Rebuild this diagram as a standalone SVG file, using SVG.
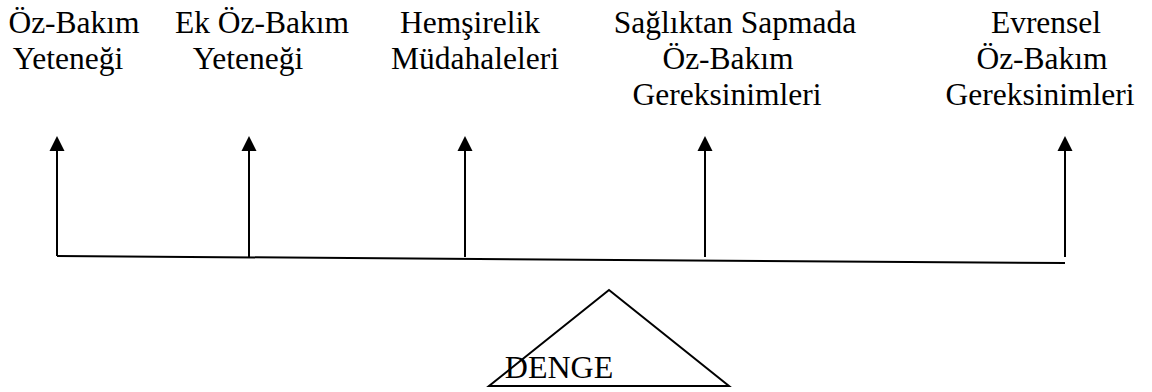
<svg xmlns="http://www.w3.org/2000/svg" width="1152" height="392" viewBox="0 0 1152 392">
  <style>
    text { font-family: "Liberation Serif", "Times New Roman", serif; font-size: 31.5px; fill: #000; text-anchor: middle; }
    .conn { stroke: #000; stroke-width: 2; fill: none; }
    .head { fill: #000; stroke: none; }
  </style>
  <defs>
    <!-- upward arrowhead, tip at origin -->
    <path id="up-head" class="head" d="M0 0 L7.5 15 L-7.5 15 Z"/>
  </defs>
  <rect width="1152" height="392" fill="#fff"/>

  <!-- labels -->
  <g id="oz-bakim-yetenegi">
    <text x="74" y="33">Öz-Bakım</text>
    <text x="68" y="69">Yeteneği</text>
  </g>
  <g id="ek-oz-bakim-yetenegi">
    <text x="262" y="33">Ek Öz-Bakım</text>
    <text x="248" y="69">Yeteneği</text>
  </g>
  <g id="hemsirelik-mudahaleleri">
    <text x="470" y="33">Hemşirelik</text>
    <text x="475" y="69">Müdahaleleri</text>
  </g>
  <g id="sapma-gereksinimleri">
    <text x="735" y="33">Sağlıktan Sapmada</text>
    <text x="728" y="69">Öz-Bakım</text>
    <text x="727" y="105">Gereksinimleri</text>
  </g>
  <g id="evrensel-gereksinimleri">
    <text x="1046" y="33">Evrensel</text>
    <text x="1042" y="69">Öz-Bakım</text>
    <text x="1040" y="105">Gereksinimleri</text>
  </g>

  <!-- beam and arrows -->
  <g id="connectors">
    <g class="conn">
      <path d="M57 256 L1065 263"/>
      <path d="M57 256 L57 148"/>
      <path d="M249 257 L249 148"/>
      <path d="M465 257 L465 148"/>
      <path d="M705 257 L705 148"/>
      <path d="M1065 257 L1065 148"/>
    </g>
    <use href="#up-head" x="57" y="136"/>
    <use href="#up-head" x="249" y="136"/>
    <use href="#up-head" x="465" y="136"/>
    <use href="#up-head" x="705" y="136"/>
    <use href="#up-head" x="1065" y="136"/>
  </g>

  <!-- fulcrum -->
  <g id="denge">
    <path d="M609 290 L729 386 L489 386 Z" fill="none" stroke="#000" stroke-width="2"/>
    <text x="559" y="378" style="font-size:32px">DENGE</text>
  </g>
</svg>
